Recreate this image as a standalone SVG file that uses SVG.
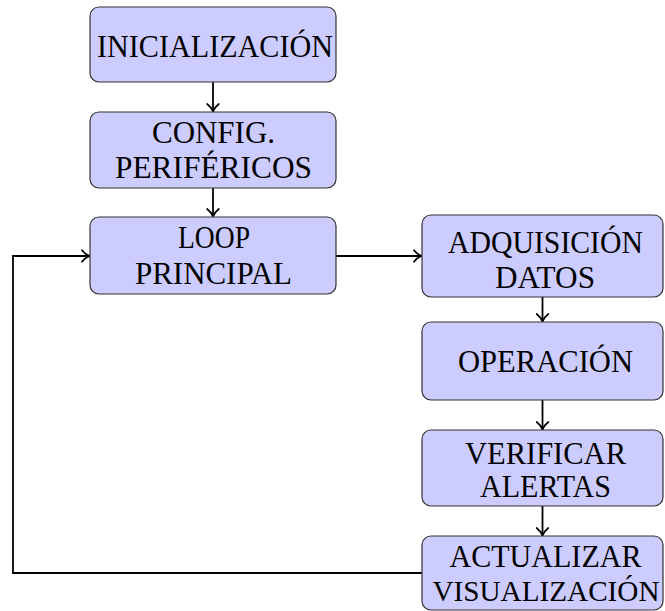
<svg xmlns="http://www.w3.org/2000/svg" width="665" height="611" viewBox="0 0 665 611">
  <style>
    .box { fill: #ccccff; stroke: #333333; stroke-width: 1.2; }
    .lbl { font-family: "Liberation Serif", "DejaVu Serif", serif; font-size: 31px; fill: #000000; text-anchor: middle; }
    .edge { fill: none; stroke: #000000; stroke-width: 1.8; }
  </style>
  <defs>
    <!-- curved open arrow tip, in user units so all edges share one size -->
    <marker id="arr" viewBox="0 0 14 14" refX="13" refY="7" markerWidth="14" markerHeight="14" markerUnits="userSpaceOnUse" orient="auto">
      <path d="M5.5,1.2 Q9,5.6 13,7 Q9,8.4 5.5,12.8" fill="none" stroke="#000000" stroke-width="1.7" stroke-linecap="round"/>
    </marker>
  </defs>

  <g id="connectors">
    <line class="edge" x1="213" y1="82" x2="213" y2="111.5" marker-end="url(#arr)"/>
    <line class="edge" x1="213" y1="188" x2="213" y2="216.5" marker-end="url(#arr)"/>
    <line class="edge" x1="336" y1="256" x2="421.5" y2="256" marker-end="url(#arr)"/>
    <line class="edge" x1="542.5" y1="297" x2="542.5" y2="321.5" marker-end="url(#arr)"/>
    <line class="edge" x1="542.5" y1="400" x2="542.5" y2="429.5" marker-end="url(#arr)"/>
    <line class="edge" x1="542.5" y1="506" x2="542.5" y2="535.5" marker-end="url(#arr)"/>
    <polyline class="edge" points="422,573 13,573 13,256 89.5,256" marker-end="url(#arr)"/>
  </g>

  <g id="inicializacion">
    <rect class="box" x="90" y="7" width="246" height="75" rx="9"/>
    <text class="lbl" x="215" y="57" textLength="236" lengthAdjust="spacingAndGlyphs">INICIALIZACIÓN</text>
  </g>
  <g id="config">
    <rect class="box" x="90" y="112" width="246" height="76" rx="9"/>
    <text class="lbl" x="213.5" y="143" textLength="123" lengthAdjust="spacingAndGlyphs">CONFIG.</text>
    <text class="lbl" x="213.5" y="178" textLength="197" lengthAdjust="spacingAndGlyphs">PERIFÉRICOS</text>
  </g>
  <g id="loop">
    <rect class="box" x="90" y="217" width="246" height="77" rx="9"/>
    <text class="lbl" x="214" y="248" textLength="72" lengthAdjust="spacingAndGlyphs">LOOP</text>
    <text class="lbl" x="213.5" y="284" textLength="157" lengthAdjust="spacingAndGlyphs">PRINCIPAL</text>
  </g>
  <g id="adquisicion">
    <rect class="box" x="422" y="215" width="241" height="82" rx="9"/>
    <text class="lbl" x="545.5" y="253" textLength="195" lengthAdjust="spacingAndGlyphs">ADQUISICIÓN</text>
    <text class="lbl" x="545" y="288" textLength="100" lengthAdjust="spacingAndGlyphs">DATOS</text>
  </g>
  <g id="operacion">
    <rect class="box" x="422" y="322" width="241" height="78" rx="9"/>
    <text class="lbl" x="545.5" y="372" textLength="175" lengthAdjust="spacingAndGlyphs">OPERACIÓN</text>
  </g>
  <g id="verificar">
    <rect class="box" x="422" y="430" width="241" height="76" rx="9"/>
    <text class="lbl" x="545.5" y="464" textLength="161" lengthAdjust="spacingAndGlyphs">VERIFICAR</text>
    <text class="lbl" x="545.5" y="497" textLength="131" lengthAdjust="spacingAndGlyphs">ALERTAS</text>
  </g>
  <g id="actualizar">
    <rect class="box" x="422" y="536" width="241" height="74" rx="9"/>
    <text class="lbl" x="545.5" y="567" textLength="192" lengthAdjust="spacingAndGlyphs">ACTUALIZAR</text>
    <text class="lbl" x="546" y="601" style="font-size:29px" textLength="227" lengthAdjust="spacingAndGlyphs">VISUALIZACIÓN</text>
  </g>
</svg>
